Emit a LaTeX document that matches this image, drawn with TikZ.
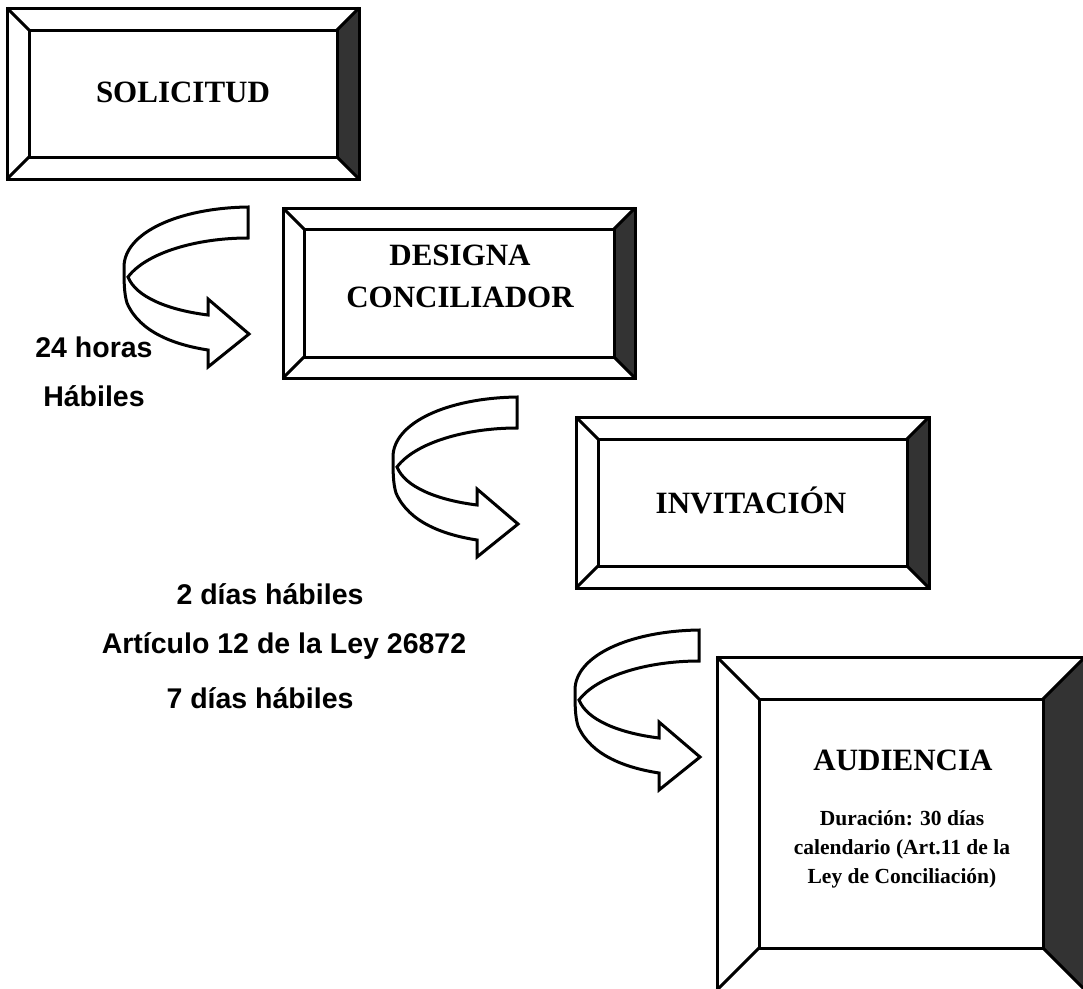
\documentclass[tikz,border=0pt]{standalone}
\usepackage{fontspec}
\setmainfont{Liberation Serif}
\newfontfamily\labelfont{Liberation Sans}
\tikzset{
  edge/.style={line width=3pt, line join=miter},
  darkbevel/.style={fill=black!80},
  boxtext/.style={font=\fontsize{31}{42}\selectfont\bfseries, inner sep=0pt, align=center},
  subtext/.style={font=\fontsize{21.5}{29}\selectfont\bfseries, inner sep=0pt, align=center},
  lbl/.style={font=\labelfont\fontsize{28.5}{34}\selectfont\bfseries, inner sep=0pt, anchor=base},
  ribbon/.style={line width=3pt, fill=white, line join=miter}
}
% bevelled frame: x1,y1,x2,y2,bevel
\newcommand\bevelframe[5]{%
  \pgfmathsetmacro\bxa{#1+#5}\pgfmathsetmacro\bya{#2+#5}%
  \pgfmathsetmacro\bxb{#3-#5}\pgfmathsetmacro\byb{#4-#5}%
  \fill[white] (#1,#2) rectangle (#3,#4);
  \fill[darkbevel] (#3,#2) -- (\bxb,\bya) -- (\bxb,\byb) -- (#3,#4) -- cycle;
  \draw[edge] (#1,#2) rectangle (#3,#4);
  \draw[edge] (\bxa,\bya) rectangle (\bxb,\byb);
  \draw[edge] (#1,#2) -- (\bxa,\bya) (#3,#2) -- (\bxb,\bya)
              (#1,#4) -- (\bxa,\byb) (#3,#4) -- (\bxb,\byb);
}
% curved ribbon arrow, origin = top-right corner of its tail
\newcommand\ribbonarrow[2]{%
  \begin{scope}[shift={(#1,#2)}]
    \draw[ribbon] (0,0) .. controls (-70,1) and (-124,26) .. (-124,60)
      .. controls (-124,74) and (-124,86) .. (-121,96)
      .. controls (-108,126) and (-72,138) .. (-40,143)
      -- (-40,160) -- (1,127) -- (-40,92) -- (-40,108)
      .. controls (-80,103) and (-112,90) .. (-120,70)
      .. controls (-102,46) and (-52,31) .. (0,31) -- cycle;
  \end{scope}
}
\begin{document}
\begin{tikzpicture}[x=1pt,y=-1pt]
\useasboundingbox (0,0) rectangle (1083,988);
\begin{scope}
\clip (0,0) rectangle (1083,988);

\bevelframe{7}{8}{359}{179}{22}
\node[boxtext] (solicitud) at (183,92) {SOLICITUD};

\bevelframe{283}{208}{635}{378}{21}
\node[boxtext] (designa) at (460,276) {DESIGNA\\CONCILIADOR};

\bevelframe{576}{417}{929}{588}{22}
\node[boxtext] (invitacion) at (751,500) {INVITACIÓN};

\bevelframe{717}{657}{1085}{990}{42}
\node[boxtext, anchor=base] (audiencia) at (903,770) {AUDIENCIA};
\node[subtext] (duracion) at (902,849) {Duración: 30 días\\calendario (Art.11 de la\\Ley de Conciliación)};

\ribbonarrow{248}{207}
\ribbonarrow{517}{397}
\ribbonarrow{699}{630}

\node[lbl] (l24) at (94,357) {24 horas};
\node[lbl] (lhab) at (94,406) {Hábiles};
\node[lbl] (l2dias) at (270,604) {2 días hábiles};
\node[lbl] (lart) at (284,653) {Artículo 12 de la Ley 26872};
\node[lbl] (l7dias) at (260,708) {7 días hábiles};
\end{scope}
\end{tikzpicture}
\end{document}
